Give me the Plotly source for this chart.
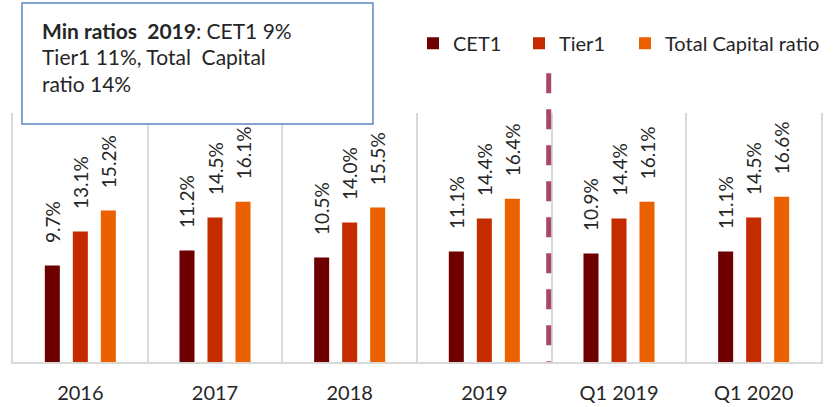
import plotly.graph_objects as go

categories = ["2016", "2017", "2018", "2019", "Q1 2019", "Q1 2020"]
cet1 = [9.7, 11.2, 10.5, 11.1, 10.9, 11.1]
tier1 = [13.1, 14.5, 14.0, 14.4, 14.4, 14.5]
total_capital = [15.2, 16.1, 15.5, 16.4, 16.1, 16.6]
series_names = ["CET1", "Tier1", "Total Capital ratio"]
series_colors = ["#6E0000", "#C42C00", "#EB6100"]

FONT = "Lato"
TXT = "#262626"
legend_ids = ["legend", "legend2", "legend3"]
fig = go.Figure()
for name, vals, col, lg in zip(series_names, [cet1, tier1, total_capital], series_colors, legend_ids):
    fig.add_trace(go.Bar(
        x=categories, y=vals, name=name, legend=lg,
        marker=dict(color=col, line=dict(width=0)),
        text=[f"\u00a0\u00a0\u00a0\u00a0{v:.1f}%" for v in vals],
        textposition="outside", textangle=-90, constraintext="none", cliponaxis=False,
        textfont=dict(family=FONT, size=19, color=TXT),
    ))

legend_style = dict(orientation="h", xanchor="left", y=1.28, yanchor="middle",
                    font=dict(family=FONT, size=20, color=TXT), bgcolor="rgba(0,0,0,0)")
legend_x = [(413 - 13) / 808, (519 - 13) / 808, (625 - 13) / 808]

fig.update_layout(
    width=838, height=407,
    margin=dict(l=13, r=17, t=113, b=45, autoexpand=False),
    paper_bgcolor="white", plot_bgcolor="white",
    barmode="group", bargap=0.376, bargroupgap=0.464,
    font=dict(family=FONT, size=20, color=TXT),
    showlegend=True,
    legend=dict(x=legend_x[0], **legend_style),
    legend2=dict(x=legend_x[1], **legend_style),
    legend3=dict(x=legend_x[2], **legend_style),
    xaxis=dict(type="category", tickson="boundaries", showgrid=True, gridcolor="#D9D9D9",
               gridwidth=1.5, showline=True, linecolor="#D9D9D9", linewidth=2,
               ticks="", ticklabelstandoff=12,
               tickfont=dict(family=FONT, size=20, color=TXT)),
    yaxis=dict(range=[0, 25], showgrid=False, zeroline=False, showticklabels=False,
               showline=True, mirror=True, linecolor="#D9D9D9", linewidth=2),
)

# dashed separator between annual and quarterly data (drawn top to bottom)
fig.add_shape(type="line", xref="x", yref="paper", x0=3.478, x1=3.478, y0=1.16, y1=0.0,
              line=dict(color="#A8476A", width=5, dash="20px,16px"), layer="above")

# note box
fig.add_shape(type="rect", xref="paper", yref="paper", x0=0.0111, x1=0.4455, y0=0.9558, y1=1.4418,
              line=dict(color="#5B87C5", width=1.5), fillcolor="white", layer="above")
note_lines = ["<b>Min ratios\u00a0\u00a02019</b>: CET1 9%",
              "Tier1 11%, Total\u00a0\u00a0Capital",
              "ratio 14%"]
for i, t in enumerate(note_lines):
    fig.add_annotation(xref="paper", yref="paper", x=(40 - 13) / 808, y=(362 - (30 + 26.5 * i)) / 249,
                       text=t, showarrow=False, xanchor="left", yanchor="middle", align="left",
                       font=dict(family=FONT, size=21, color=TXT))

fig.write_html("out.html", config={"displayModeBar": False},
               post_script="document.body.style.margin='0';")
